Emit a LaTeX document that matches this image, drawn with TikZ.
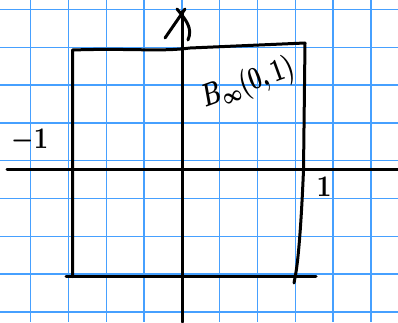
\documentclass[tikz,border=0pt]{standalone}
\usepackage{graphicx}
\definecolor{gridblue}{RGB}{70,160,255}
\tikzset{
  gridline/.style={draw=gridblue, line width=1.4pt},
  ink/.style={draw=black, line width=3pt, line cap=round, line join=round},
  handlabel/.style={inner sep=0pt}
}
\newcommand{\bigmath}[3]{\scalebox{#1}[#2]{\boldmath$#3$}}
\begin{document}
\begin{tikzpicture}[x=1pt,y=-1pt]
\useasboundingbox (0,0) rectangle (398,322);
\fill[white] (0,0) rectangle (398,322);
% grid paper
\foreach \k in {0,...,9} { \draw[gridline] ({30.7+37.8*\k},0) -- ({30.7+37.8*\k},322); }
\foreach \k in {0,...,8} { \draw[gridline] (0,{9.4+37.8*\k}) -- (398,{9.4+37.8*\k}); }
% axes
\coordinate (xl) at (7,169);
\coordinate (xr) at (398,169);
\coordinate (yb) at (182,322);
\coordinate (yt) at (182,11);
\draw[ink] (xl) -- (xr);
\draw[ink] (yb) -- (yt);
% arrowhead strokes at top of vertical axis
\coordinate (al) at (165,38);
\coordinate (at1) at (185,9);
\coordinate (ar0) at (177,9);
\coordinate (ar1) at (188,40);
\draw[ink] (al) -- (at1);
\draw[ink] (ar0) .. controls (186,20) and (193,28) .. (ar1);
% square
\coordinate (tl) at (72.5,50);
\coordinate (tr) at (305,43);
\coordinate (bl) at (72.5,276.5);
\coordinate (bls) at (66,276.5);
\coordinate (brs) at (316,276.5);
\coordinate (rb) at (294,283);
\draw[ink] (bl) -- (tl) .. controls (130,48) and (160,52) .. (190,48) -- (tr);
\draw[ink] (tr) -- (303.5,170) .. controls (301,230) and (298,260) .. (296,272) -- (rb);
\draw[ink] (bls) -- (brs);
% labels
\node[handlabel] (lm) at (30,141) {\bigmath{2.5}{3.0}{-1}};
\node[handlabel] (lp) at (324,187) {\bigmath{2.6}{3.0}{1}};
\node[handlabel, rotate=20] (lb) at (248,84) {\bigmath{2.2}{3.2}{B_\infty(0,1)}};
\end{tikzpicture}
\end{document}
